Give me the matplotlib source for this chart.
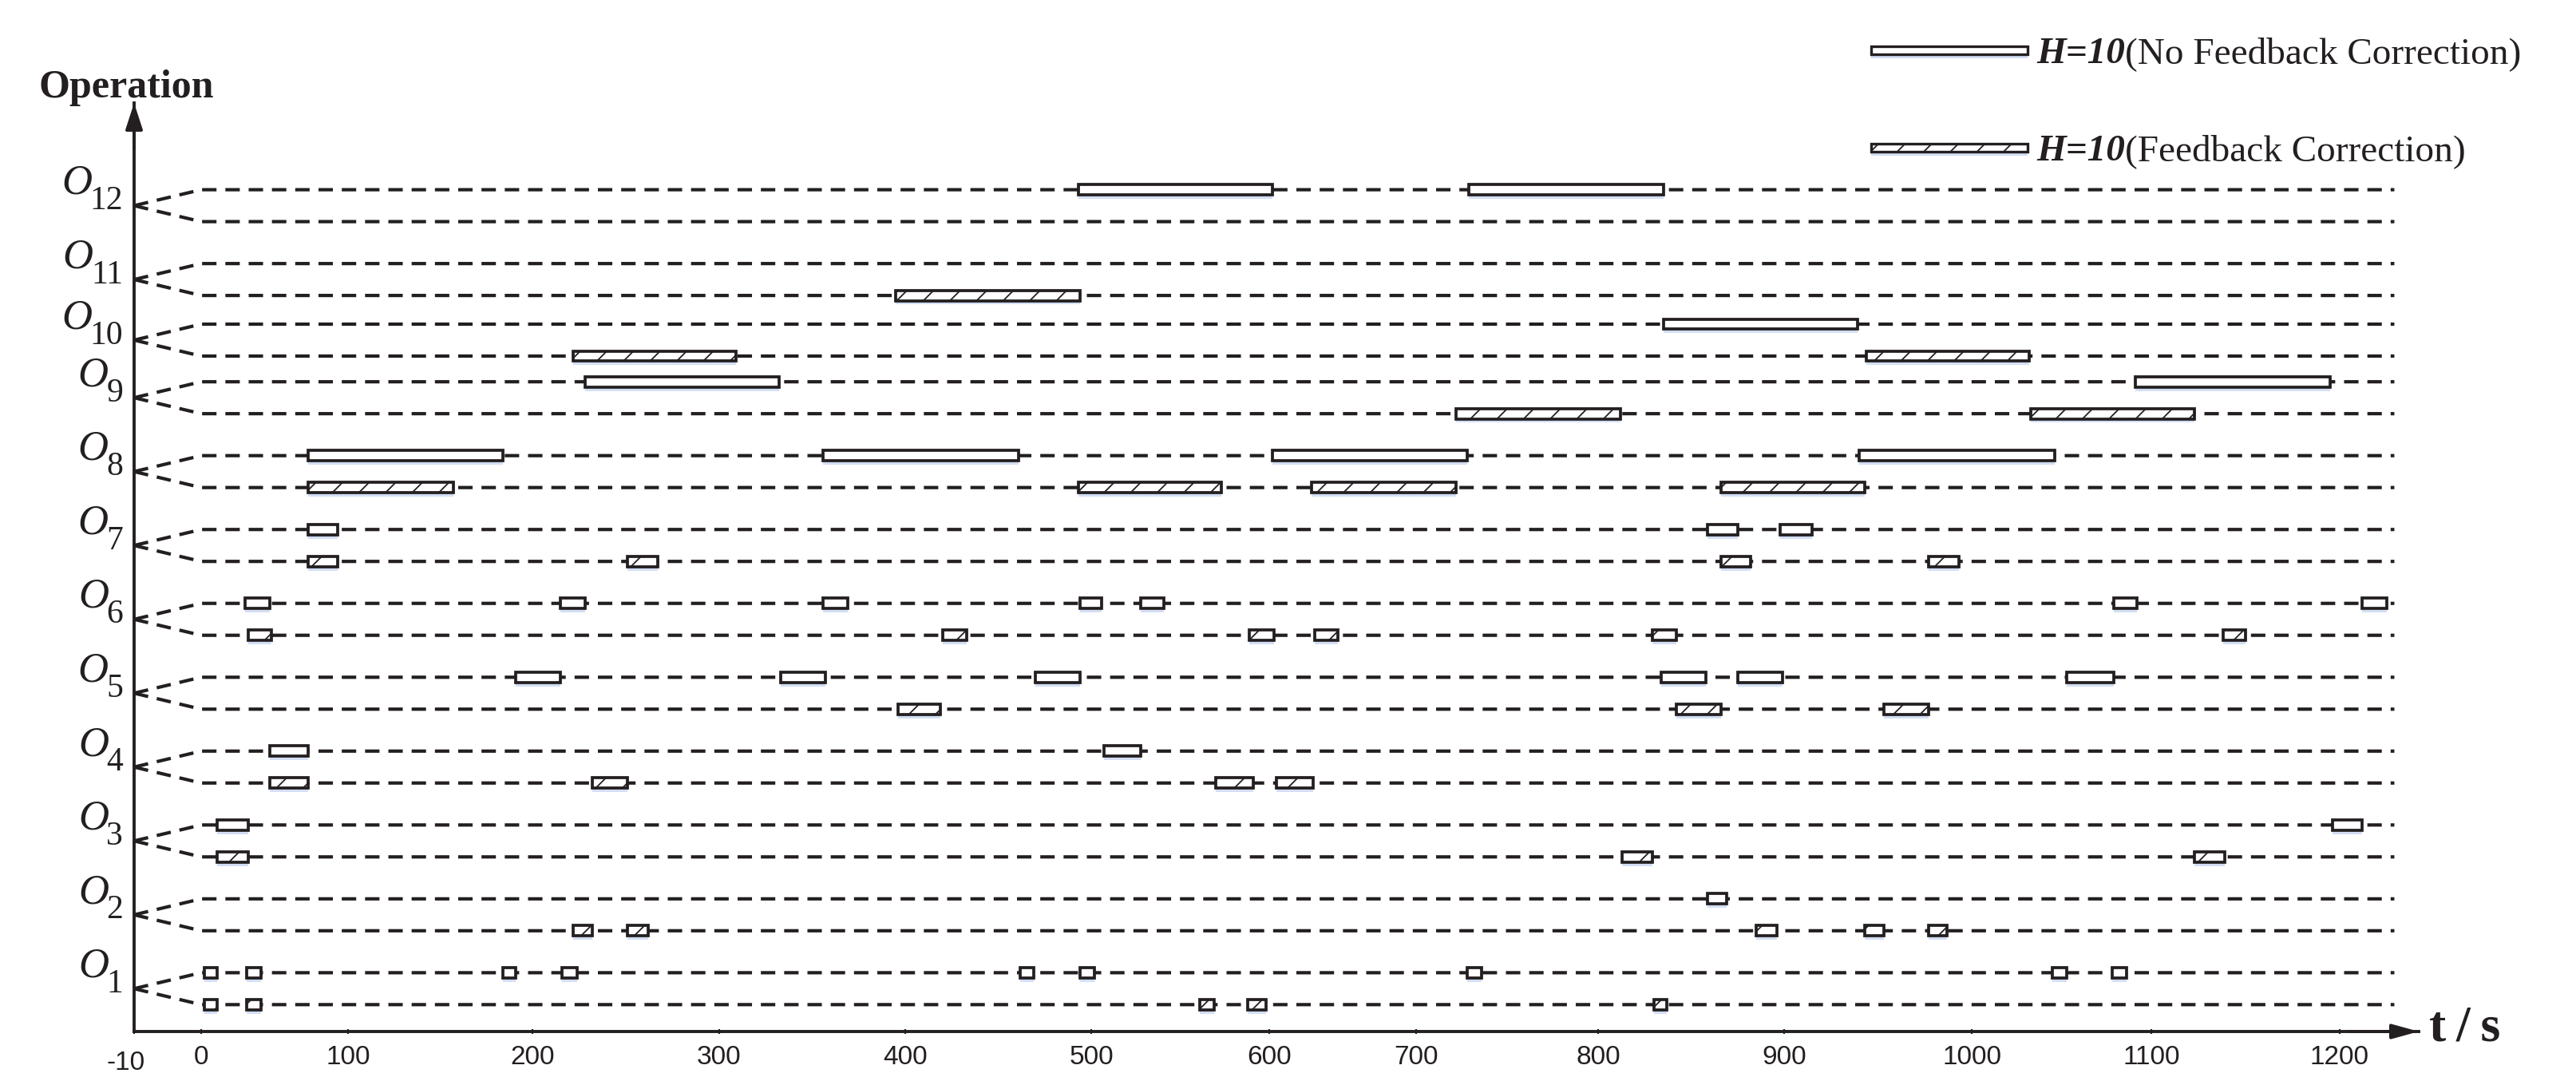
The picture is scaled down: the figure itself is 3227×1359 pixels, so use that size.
import numpy as np
import matplotlib
matplotlib.use("Agg")
import matplotlib.pyplot as plt
import matplotlib.patheffects as pe
import matplotlib.transforms as mtransforms
from matplotlib.patches import Rectangle

plt.rcParams['lines.scale_dashes'] = False
plt.rcParams['hatch.linewidth'] = 1.3

INK = '#231f20'

# operations O1..O12, each bar is (start, end) in seconds
ops = ['1', '2', '3', '4', '5', '6', '7', '8', '9', '10', '11', '12']

no_feedback = [
    [(2, 11), (31, 41), (184, 191), (216, 224), (462, 469), (494, 502), (728, 736), (1045, 1053), (1078, 1086)],
    [(859, 869)],
    [(11, 32), (1196, 1212)],
    [(47, 73), (507, 528)],
    [(191, 215), (333, 357), (470, 494), (834, 858), (875, 899), (1053, 1079)],
    [(30, 47), (215, 228), (356, 369), (494, 506), (528, 541), (1079, 1092), (1212, 1225)],
    [(73, 93), (859, 875), (898, 915)],
    [(73, 184), (356, 461), (602, 728), (940, 1046)],
    [(228, 332), (1091, 1195)],
    [(835, 939)],
    [],
    [(493, 602), (729, 835)],
]

feedback = [
    [(2, 11), (31, 41), (561, 569), (588, 598), (830, 837)],
    [(222, 232), (251, 262), (885, 896), (943, 953), (977, 987)],
    [(11, 32), (813, 829), (1123, 1139)],
    [(47, 73), (232, 251), (570, 591), (605, 630)],
    [(396, 419), (842, 866), (953, 977)],
    [(32, 48), (420, 433), (589, 603), (631, 647), (829, 842), (1138, 1150)],
    [(73, 93), (251, 267), (866, 882), (977, 993)],
    [(73, 157), (493, 573), (629, 722), (866, 943)],
    [(722, 812), (1033, 1123)],
    [(222, 309), (944, 1032)],
    [(395, 494)],
    [],
]

x_ticks = [-10, 0, 100, 200, 300, 400, 500, 600, 700, 800, 900, 1000, 1100, 1200]
# the original time axis is hand drawn with uneven tick spacing (pixels)
tick_px = [168, 252, 436, 667, 901, 1134, 1367, 1590, 1774, 2002, 2235, 2470, 2695, 2931]

kt = np.array(x_ticks, float)
kp = np.array(tick_px, float)


def t_to_px(t):
    t = np.asarray(t, float)
    lo = kp[0] + (t - kt[0]) * (kp[1] - kp[0]) / (kt[1] - kt[0])
    hi = kp[-1] + (t - kt[-1]) * (kp[-1] - kp[-2]) / (kt[-1] - kt[-2])
    return np.where(t < kt[0], lo, np.where(t > kt[-1], hi, np.interp(t, kt, kp)))


def px_to_t(p):
    p = np.asarray(p, float)
    lo = kt[0] + (p - kp[0]) * (kt[1] - kt[0]) / (kp[1] - kp[0])
    hi = kt[-1] + (p - kp[-1]) * (kt[-1] - kt[-2]) / (kp[-1] - kp[-2])
    return np.where(p < kp[0], lo, np.where(p > kp[-1], hi, np.interp(p, kp, kt)))


W, H = 3227, 1359
fig = plt.figure(figsize=(W / 100, H / 100), dpi=100)
ax = fig.add_axes([168 / W, (H - 1292) / H, (3030 - 168) / W, (1292 - 129) / H])
ax.set_xscale('function', functions=(t_to_px, px_to_t))
ax.set_xlim(-10, float(px_to_t(3030)))
ax.set_ylim(0.42, 12.99)

row_y = [1, 2, 3, 4, 5, 6, 7, 8, 9, 9.78, 10.6, 11.6]
half = 0.216
bar_h = 0.14
t_end = 1229

shadow = [pe.SimplePatchShadow(offset=(0, -3.5), shadow_rgbFace='#c9d6f2', alpha=0.8, hatch=None),
          pe.Normal()]

for i, yc in enumerate(row_y):
    for sgn, bars, hatch in ((1, no_feedback[i], None), (-1, feedback[i], '/')):
        y = yc + sgn * half
        ax.plot([-10, 0, t_end], [yc, y, y], color=INK, lw=3.0, ls=(0, (13, 8)),
                dash_capstyle='butt', zorder=1, clip_on=False)
        if bars:
            starts = [b[0] for b in bars]
            widths = [b[1] - b[0] for b in bars]
            ax.barh([y] * len(bars), widths, height=bar_h, left=starts, color='white',
                    edgecolor=INK, linewidth=2.7, hatch=hatch, zorder=3, path_effects=shadow)

# operation labels O_k
trans = mtransforms.blended_transform_factory(fig.transFigure, ax.transData)
for i, yc in enumerate(row_y):
    num = ax.text(154 / W, yc - 0.05, ops[i], transform=trans, ha='right', va='baseline',
                  fontsize=30, family='Liberation Serif', color=INK)
    ax.annotate('O', xy=(0, yc + 0.30), xycoords=(num, 'data'), xytext=(2, 0),
                textcoords='offset points', ha='right', va='center', fontsize=38,
                family='Liberation Serif', style='italic', color=INK)

# axes
for s in ['top', 'right']:
    ax.spines[s].set_visible(False)
for s in ['bottom', 'left']:
    ax.spines[s].set_linewidth(2.8)
    ax.spines[s].set_color(INK)
ax.set_yticks([])
ax.set_xticks(x_ticks)
ax.set_xticklabels([str(v) for v in x_ticks], fontsize=24, family='Liberation Sans', color=INK)
ax.tick_params(axis='x', direction='inout', length=5, width=1.5, color=INK, pad=10)
# the -10 label sits a little left and lower in the original
first = ax.get_xticklabels()[0]
first.set_transform(first.get_transform() +
                    mtransforms.ScaledTranslation(-0.10, -0.07, fig.dpi_scale_trans))

ax.annotate('', xy=(1, 0), xytext=(0.97, 0), xycoords='axes fraction',
            arrowprops=dict(arrowstyle='-|>,head_length=2,head_width=0.55', lw=2.8,
                            color=INK, shrinkA=0, shrinkB=0, mutation_scale=10))
ax.annotate('', xy=(0, 1), xytext=(0, 0.95), xycoords='axes fraction',
            arrowprops=dict(arrowstyle='-|>,head_length=2,head_width=0.65', lw=2.8,
                            color=INK, shrinkA=0, shrinkB=0, mutation_scale=10))

fig.text(158 / W, 1 - 110 / H, 'Operation', ha='center', va='center', fontsize=36,
         fontweight='bold', family='Liberation Serif', color=INK)
fig.text(3088 / W, 1 - 1288 / H, 't\u2009/\u2009s', ha='center', va='center', fontsize=46,
         fontweight='bold', family=['Liberation Serif', 'DejaVu Serif'], color=INK)

# legend
legend_items = [(63, '(No Feedback Correction)', None), (185, '(Feedback Correction)', '/')]
for yc_px, label, hatch in legend_items:
    r = Rectangle((2344 / W, 1 - (yc_px + 5) / H), 196 / W, 10 / H, transform=fig.transFigure,
                  facecolor='white', edgecolor=INK, lw=2.4, hatch=hatch, path_effects=shadow)
    fig.add_artist(r)
    t1 = fig.text(2551 / W, 1 - (yc_px + 16) / H, 'H=10', fontsize=34, fontweight='bold',
                  style='italic', family='Liberation Serif', va='baseline', color=INK)
    ax.annotate(label, xy=(1, 0), xycoords=t1, ha='left', va='bottom', fontsize=34,
                family='Liberation Serif', color=INK)

fig.savefig('out.png', dpi=100)
